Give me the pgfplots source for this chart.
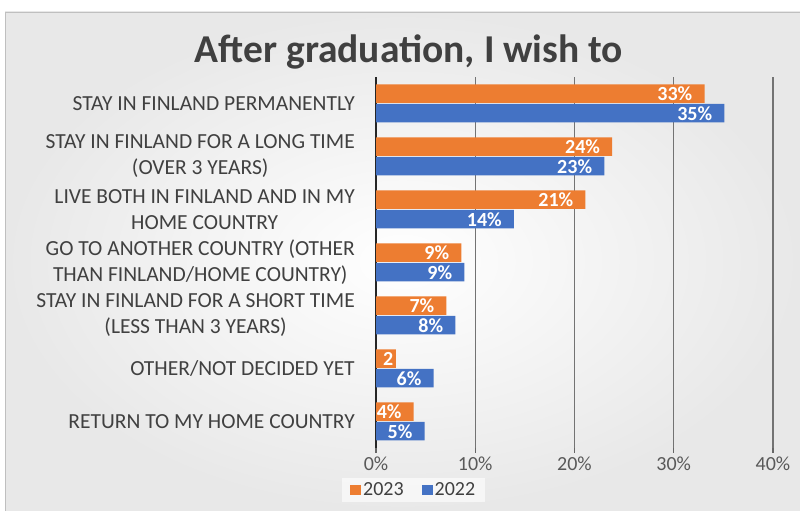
\documentclass[border=0pt]{standalone}
\usepackage{pgfplots}
\pgfplotsset{compat=1.18}
\usepackage{fontspec}
\setmainfont{Carlito}
\definecolor{orn}{HTML}{ED7D31}
\definecolor{blu}{HTML}{4472C4}
\definecolor{txt}{HTML}{404040}
\definecolor{tck}{HTML}{595959}
\begin{document}
\begin{tikzpicture}[x=1pt,y=1pt]
\useasboundingbox (0,0) rectangle (800,511);
\fill[white] (0,0) rectangle (800,511);
\shade[inner color=white, outer color=black!9] (5,0) rectangle (800,499);
\draw[black!25] (5,0) -- (5,499) -- (800,499);
\node[font=\bfseries\fontsize{39.5}{44}\selectfont, text=txt, anchor=base] at (409,448) {After graduation, I wish to};
\begin{axis}[at={(376pt,63pt)}, anchor=south west, scale only axis,
  width=397pt, height=371pt,
  xbar, bar width=18.5pt,
  xmin=0, xmax=40, ymin=-0.5, ymax=6.5,
  separate axis lines,
  axis x line*=bottom, x axis line style={draw=none},
  axis y line*=left, y axis line style={-, black!85, line width=1.3pt},
  ytick={0,...,6},
  yticklabels={{RETURN TO MY HOME COUNTRY},{OTHER/NOT DECIDED YET},{STAY IN FINLAND FOR A SHORT TIME\\(LESS THAN 3 YEARS)},{GO TO ANOTHER COUNTRY (OTHER\\THAN FINLAND/HOME COUNTRY)},{LIVE BOTH IN FINLAND AND IN MY\\HOME COUNTRY},{STAY IN FINLAND FOR A LONG TIME\\(OVER 3 YEARS)},{STAY IN FINLAND PERMANENTLY}},
  yticklabel style={align=center, inner sep=0pt, xshift=-16pt, text=txt, font=\fontsize{21.5}{26}\selectfont},
  ytick style={draw=none},
  xtick={0,10,20,30,40},
  xticklabel={\pgfmathprintnumber{\tick}\%},
  xticklabel style={text=tck, font=\fontsize{20}{24}\selectfont},
  /pgf/number format/assume math mode=true,
  tick align=outside, major tick length=5pt,
  xtick style={black!60, line width=1.2pt},
  xmajorgrids, grid style={black!55, line width=1.2pt},
  point meta=explicit symbolic,
  nodes near coords,
  every node near coord/.append style={anchor=east, inner sep=0pt, xshift=-12pt, text=white, font=\bfseries\fontsize{20}{24}\selectfont},
  legend style={at={(0.095,-0.113)}, anchor=center, legend columns=2, draw=none, fill=white, fill opacity=0.6, text opacity=1, font=\fontsize{20}{24}\selectfont, text=txt, inner xsep=8pt, inner ysep=3pt, /tikz/every even column/.style={column sep=16pt}},
  legend image code/.code={\fill[#1, fill opacity=1] (0pt,-5pt) rectangle (11pt,5pt);},
]
\addplot[fill=orn, draw=none, bar shift=9.75pt] coordinates {
 (3.8,0) [4\%] (2.0,1) [2\hspace*{-10pt}] (7.1,2) [7\%] (8.6,3) [9\%] (21.1,4) [21\%] (23.8,5) [24\%] (33.1,6) [33\%]};
\addplot[fill=blu, draw=none, bar shift=-9.75pt] coordinates {
 (4.9,0) [5\%] (5.8,1) [6\%] (8.0,2) [8\%] (8.9,3) [9\%] (13.9,4) [14\%] (23.0,5) [23\%] (35.1,6) [35\%]};
\legend{2023,2022}
\end{axis}
\end{tikzpicture}
\end{document}
